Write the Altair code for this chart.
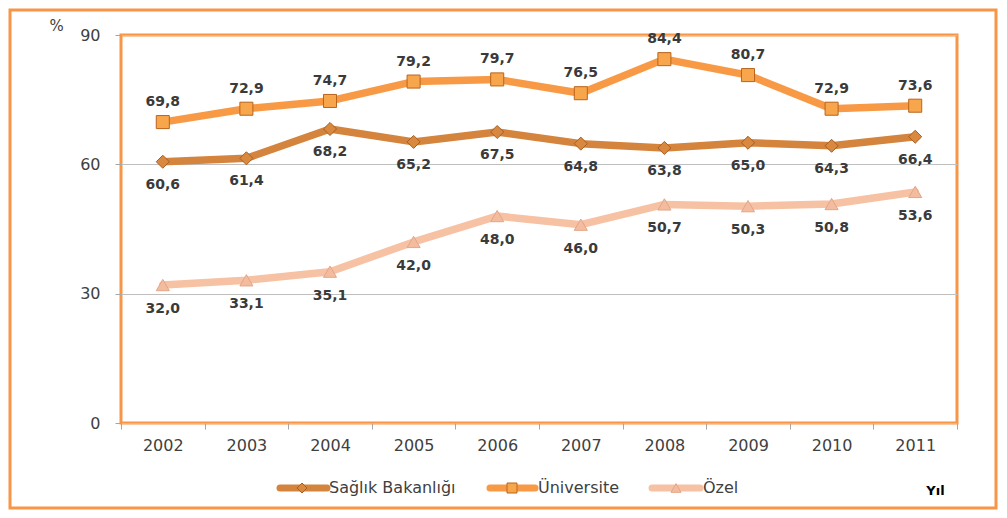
import altair as alt
import pandas as pd

years = ["2002", "2003", "2004", "2005", "2006", "2007", "2008", "2009", "2010", "2011"]
saglik = [60.6, 61.4, 68.2, 65.2, 67.5, 64.8, 63.8, 65.0, 64.3, 66.4]
univ = [69.8, 72.9, 74.7, 79.2, 79.7, 76.5, 84.4, 80.7, 72.9, 73.6]
ozel = [32.0, 33.1, 35.1, 42.0, 48.0, 46.0, 50.7, 50.3, 50.8, 53.6]
y_ticks = [0, 30, 60, 90]

series = [
    # name, values, line colour, fill, stroke, shape, label dy
    ("Özel", ozel, "#F7C1A3", "#F4BC9E", "#E3A587", "triangle-up", 24),
    ("Sağlık Bakanlığı", saglik, "#D4843D", "#D9893F", "#A85E22", "diamond", 23),
    ("Üniversite", univ, "#F89A45", "#F8A64B", "#B8641E", "square", -20),
]

W, H = 836, 388
BORDER = "#F79646"

xenc = alt.X("year:O", scale=alt.Scale(type="band", paddingInner=0, paddingOuter=0),
             axis=alt.Axis(labelAngle=0, tickBand="extent", domain=False, tickSize=6,
                           tickColor="#A6A6A6", labelPadding=8, labelFontSize=16,
                           labelColor="#404040", title="Yıl", titleX=814, titleY=67,
                           titleAlign="center", titleBaseline="middle", titleFontSize=13,
                           titleFontWeight="bold", titleColor="#000000", grid=False))
yenc = alt.Y("v:Q", scale=alt.Scale(domain=[0, 90]),
             axis=alt.Axis(values=y_ticks, domain=False, tickSize=6, tickColor="#A6A6A6",
                           labelPadding=15, labelFontSize=16, labelColor="#404040",
                           gridColor="#BFBFBF", gridWidth=1,
                           title="%", titleAngle=0, titleX=-65, titleY=-10,
                           titleAlign="center", titleBaseline="middle", titleFontSize=15,
                           titleFontWeight="normal", titleColor="#404040"))

one = pd.DataFrame({"a": [0]})
frame = alt.Chart(one).mark_rect(fill=None, stroke=BORDER, strokeWidth=3, clip=False).encode(
    x=alt.value(-111), x2=alt.value(875), y=alt.value(-25), y2=alt.value(473))

layers = [frame]
for name, vals, lc, fc, sc, shp, dy in series:
    df = pd.DataFrame({"year": years, "v": vals})
    base = alt.Chart(df).encode(x=xenc, y=yenc)
    layers.append(base.mark_line(color=lc, strokeWidth=7.5, strokeJoin="round", strokeCap="round"))
    layers.append(base.mark_point(shape=shp, filled=True, fill=fc, stroke=sc, strokeWidth=1,
                                  size=170, opacity=1))
    layers.append(base.transform_calculate(
        label="replace(format(datum.v, '.1f'), '.', ',')").mark_text(
        dy=dy, fontSize=14, fontWeight="bold", color="#3A3A3A").encode(text="label:N"))

legend_pos = {
    "Sağlık Bakanlığı": (159, 206, 181, 208),
    "Üniversite": (369, 414, 391, 417),
    "Özel": (531, 579, 555, 582),
}
LY = 453
for name, vals, lc, fc, sc, shp, dy in [series[1], series[2], series[0]]:
    x1, x2, m, t = legend_pos[name]
    lg = alt.Chart(one)
    layers.append(lg.mark_rule(color=lc, strokeWidth=7, strokeCap="round").encode(
        x=alt.value(x1), x2=alt.value(x2), y=alt.value(LY)))
    layers.append(lg.mark_point(shape=shp, filled=True, fill=fc, stroke=sc, strokeWidth=1,
                                size=100, opacity=1).encode(x=alt.value(m), y=alt.value(LY)))
    layers.append(lg.mark_text(align="left", baseline="middle", fontSize=16,
                               color="#404040").encode(
        x=alt.value(t), y=alt.value(LY), text=alt.value(name)))

chart = alt.layer(*layers).properties(
    width=W, height=H,
    autosize=alt.AutoSizeParams(type="none"),
    padding={"left": 113, "top": 27, "right": 42, "bottom": 87},
).configure(font="DejaVu Sans").configure_view(stroke=BORDER, strokeWidth=3)

chart.save("out.html", embed_options={"renderer": "svg", "actions": False})
